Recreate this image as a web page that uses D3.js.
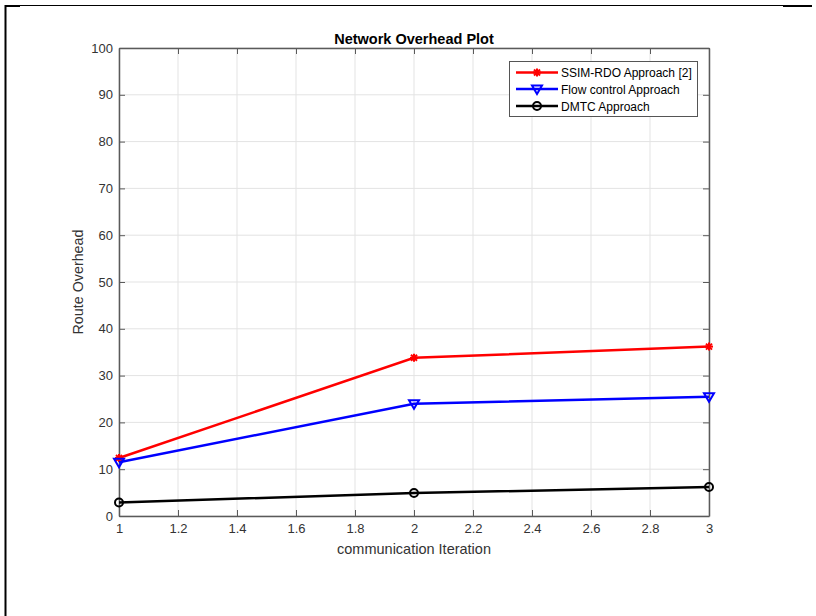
<!DOCTYPE html>
<html>
<head>
<meta charset="utf-8">
<script src="https://cdn.jsdelivr.net/npm/d3@7"></script>
<style>
  html, body { margin: 0; padding: 0; background: #fff; }
  svg { display: block; }
  text { font-family: "Liberation Sans", Arial, Helvetica, sans-serif; }
</style>
</head>
<body>
<svg id="chart" width="816" height="616"></svg>
<script>
// Iterations on the x axis
const iterations = [1, 2, 3];

// Route overhead per approach
const ssimRdo = [12.4, 33.8, 36.2];
const flowControl = [11.5, 24.0, 25.5];
const dmtc = [2.9, 4.9, 6.2];

const seriesNames = ["SSIM-RDO Approach [2]", "Flow control Approach", "DMTC Approach"];
const seriesColors = ["#ff0000", "#0000ff", "#000000"];
const seriesMarkers = ["star", "triangle", "circle"];

const xTicks = [1, 1.2, 1.4, 1.6, 1.8, 2, 2.2, 2.4, 2.6, 2.8, 3];
const yTicks = [0, 10, 20, 30, 40, 50, 60, 70, 80, 90, 100];

const svg = d3.select("#chart");

// Page frame
svg.append("line").attr("x1", 5.5).attr("x2", 5.5).attr("y1", 5).attr("y2", 616)
  .attr("stroke", "#000").attr("stroke-width", 2);
svg.append("line").attr("x1", 5).attr("x2", 783).attr("y1", 5.5).attr("y2", 5.5)
  .attr("stroke", "#000").attr("stroke-width", 1);
svg.append("line").attr("x1", 5).attr("x2", 20).attr("y1", 6).attr("y2", 6)
  .attr("stroke", "#000").attr("stroke-width", 2);
svg.append("line").attr("x1", 783).attr("x2", 812).attr("y1", 6).attr("y2", 6)
  .attr("stroke", "#000").attr("stroke-width", 2);

const plotLeft = 119, plotRight = 709, plotTop = 48, plotBottom = 516;
const x = d3.scaleLinear().domain([1, 3]).range([plotLeft, plotRight]);
const y = d3.scaleLinear().domain([0, 100]).range([plotBottom, plotTop]);

const axisColor = "#5a5a5a";
const textColor = "#333";

// Grid
const grid = svg.append("g");
grid.selectAll("line.gx").data(xTicks).join("line")
  .attr("x1", d => x(d)).attr("x2", d => x(d)).attr("y1", plotTop).attr("y2", plotBottom)
  .attr("stroke", "#e3e3e3").attr("stroke-width", 1);
grid.selectAll("line.gy").data(yTicks).join("line")
  .attr("x1", plotLeft).attr("x2", plotRight).attr("y1", d => y(d)).attr("y2", d => y(d))
  .attr("stroke", "#e3e3e3").attr("stroke-width", 1);

// Axes with inward ticks
const fmt = d3.format("~g");
const xAxisB = d3.axisBottom(x).tickValues(xTicks).tickSizeInner(-6).tickSizeOuter(0).tickPadding(8).tickFormat(fmt);
const xAxisT = d3.axisTop(x).tickValues(xTicks).tickSizeInner(-6).tickSizeOuter(0).tickFormat("");
const yAxisL = d3.axisLeft(y).tickValues(yTicks).tickSizeInner(-6).tickSizeOuter(0).tickPadding(6).tickFormat(fmt);
const yAxisR = d3.axisRight(y).tickValues(yTicks).tickSizeInner(-6).tickSizeOuter(0).tickFormat("");

function styleAxis(g) {
  g.select(".domain").attr("stroke", axisColor).attr("stroke-width", 1.5);
  g.selectAll(".tick line").attr("stroke", axisColor).attr("stroke-width", 1);
  g.selectAll(".tick text").attr("fill", textColor).attr("font-size", 13)
    .attr("font-family", "'Liberation Sans', Arial, sans-serif");
}
svg.append("g").attr("transform", `translate(0,${plotBottom})`).call(xAxisB).call(styleAxis);
svg.append("g").attr("transform", `translate(0,${plotTop})`).call(xAxisT).call(styleAxis);
svg.append("g").attr("transform", `translate(${plotLeft},0)`).call(yAxisL).call(styleAxis);
svg.append("g").attr("transform", `translate(${plotRight},0)`).call(yAxisR).call(styleAxis);

// Titles
svg.append("text").attr("x", (plotLeft + plotRight) / 2).attr("y", 44).attr("text-anchor", "middle")
  .attr("font-size", 14.5).attr("font-weight", "bold").attr("fill", "#000").text("Network Overhead Plot");
svg.append("text").attr("x", (plotLeft + plotRight) / 2).attr("y", 554).attr("text-anchor", "middle")
  .attr("font-size", 14.5).attr("fill", textColor).text("communication Iteration");
svg.append("text").attr("transform", `translate(83,${(plotTop + plotBottom) / 2}) rotate(-90)`)
  .attr("text-anchor", "middle").attr("font-size", 14.3).attr("fill", textColor).text("Route Overhead");

// Marker drawing
function drawMarker(g, type, color, cx, cy) {
  if (type === "star") {
    const s = 4;
    const p = g.append("g").attr("stroke", color).attr("stroke-width", 2);
    p.append("line").attr("x1", cx - s).attr("x2", cx + s).attr("y1", cy).attr("y2", cy);
    p.append("line").attr("x1", cx).attr("x2", cx).attr("y1", cy - s).attr("y2", cy + s);
    p.append("line").attr("x1", cx - s * 0.75).attr("x2", cx + s * 0.75).attr("y1", cy - s * 0.75).attr("y2", cy + s * 0.75);
    p.append("line").attr("x1", cx - s * 0.75).attr("x2", cx + s * 0.75).attr("y1", cy + s * 0.75).attr("y2", cy - s * 0.75);
  } else if (type === "triangle") {
    const s = 5;
    g.append("path").attr("d", `M${cx - s},${cy - s * 0.7}L${cx + s},${cy - s * 0.7}L${cx},${cy + s}Z`)
      .attr("fill", "none").attr("stroke", color).attr("stroke-width", 2);
  } else {
    g.append("circle").attr("cx", cx).attr("cy", cy).attr("r", 4)
      .attr("fill", "none").attr("stroke", color).attr("stroke-width", 2);
  }
}

const allSeries = [ssimRdo, flowControl, dmtc];
const line = d3.line().x((d, i) => x(iterations[i])).y(d => y(d));
const plot = svg.append("g");
allSeries.forEach((vals, k) => {
  plot.append("path").datum(vals).attr("d", line)
    .attr("fill", "none").attr("stroke", seriesColors[k]).attr("stroke-width", 2.5);
  vals.forEach((v, i) => drawMarker(plot, seriesMarkers[k], seriesColors[k], x(iterations[i]), y(v)));
});

// Legend
const lg = svg.append("g");
lg.append("rect").attr("x", 509.5).attr("y", 61.5).attr("width", 188).attr("height", 55)
  .attr("fill", "#fff").attr("stroke", "#555").attr("stroke-width", 1);
const rowY = [72.5, 89, 106];
seriesNames.forEach((name, k) => {
  lg.append("line").attr("x1", 516).attr("x2", 558).attr("y1", rowY[k]).attr("y2", rowY[k])
    .attr("stroke", seriesColors[k]).attr("stroke-width", 2.5);
  drawMarker(lg, seriesMarkers[k], seriesColors[k], 537, rowY[k]);
  lg.append("text").attr("x", 561).attr("y", rowY[k] + 4.5).attr("font-size", 12)
    .attr("fill", "#000").text(name);
});
</script>
</body>
</html>
